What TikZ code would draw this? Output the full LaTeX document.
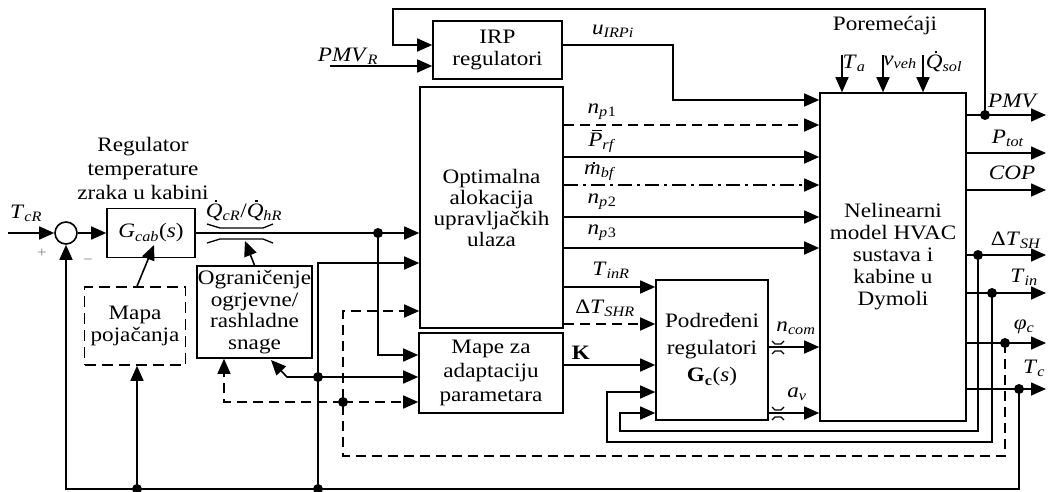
\documentclass[tikz,border=0pt]{standalone}
\usepackage{fontspec}
\setmainfont{Liberation Serif}[FakeStretch=1.13]
\usetikzlibrary{arrows.meta,calc}
\newcommand{\vv}[2]{\textit{#1}\textsubscript{\textit{#2}}}
\newcommand{\dt}[2]{\ooalign{\textit{#1}\cr\hidewidth\hspace{0.15em}\smash{\raisebox{#2}{\rule{2.4pt}{2.4pt}}}\hidewidth\cr}}
\newcommand{\br}[1]{\ooalign{\textit{#1}\cr\hidewidth\hspace{0.12em}\smash{\raisebox{0.78em}{\rule{0.5em}{1.1pt}}}\hidewidth\cr}}
\begin{document}
\begin{tikzpicture}[x=1pt,y=-1pt,
  every node/.style={font=\fontsize{20.5}{22}\selectfont},
  box/.style={draw,line width=1.6pt,align=center,inner sep=0pt},
  ln/.style={line width=1.6pt},
  thin/.style={line width=1.3pt},
  arr/.style={ln,-{Triangle[length=15pt,width=13pt]}},
  dsh/.style={dash pattern=on 10pt off 6pt},
  dd/.style={dash pattern=on 14pt off 5pt on 3pt off 5pt},
  dot/.style={circle,fill,inner sep=0pt,minimum size=10pt},
  lab/.style={inner sep=0pt},
  sm/.style={inner sep=0pt,font=\fontsize{15}{16}\selectfont}]
\useasboundingbox (0,0) rectangle (1049,491);

% blocks
\node[draw,circle,ln,minimum size=22pt,inner sep=0pt] (sum) at (66,233) {};
\node[box,minimum width=88pt,minimum height=49pt] (gcab) at (151,233) {\vv{G}{cab}(\textit{s})};
\node[box,dash pattern=on 11pt off 6pt,minimum width=101pt,minimum height=78pt] (mapa) at (135,326) {Mapa\\pojačanja};
\node[box,minimum width=115pt,minimum height=92pt,font=\fontsize{20.5}{21.5}\selectfont] (ogr) at (254.5,312) {Ograničenje\\ogrjevne/\\rashladne\\snage};
\node[box,minimum width=143pt,minimum height=241pt,font=\fontsize{20.5}{21}\selectfont] (opt) at (491.5,207.5) {Optimalna\\alokacija\\upravljačkih\\ulaza};
\node[box,minimum width=129pt,minimum height=58pt] (irp) at (497.5,50) {IRP\\regulatori};
\node[box,minimum width=144pt,minimum height=80pt,font=\fontsize{20.5}{24}\selectfont] (mape) at (491,373) {Mape za\\adaptaciju\\parametara};
\node[box,minimum width=112pt,minimum height=140pt,font=\fontsize{20.5}{27}\selectfont] (pod) at (712,350) {Podređeni\\regulatori\\\textbf{G}\textsubscript{\textbf{c}}(\textit{s})};
\node[box,minimum width=146pt,minimum height=328pt] (hvac) at (893,257) {Nelinearni\\model HVAC\\sustava i\\kabine u\\Dymoli};

% title
\node[lab,align=center,font=\fontsize{20.5}{24}\selectfont] (title) at (143,168) {Regulator\\temperature\\zraka u kabini};

% helper y-levels
\foreach \n/\yy in {y100/100,y125/125,y157/157,y185/185,y217/217,y248/248,y263/263,y287/287,y311/311,y324/324,y347/347,y355/355,y365/365,y377/377,y392/392,y402/402,y413/413}
  \coordinate (\n) at (0,\yy);

% reference input and sum
\coordinate (tcr) at (8,233);
\draw[arr] (tcr) -- (sum.west);
\draw[arr] (sum.east) -- (gcab.west);
\node[lab] (ltcr) at (26,213) {\vv{T}{cR}};
\node[sm,gray] (plus) at (42,253) {+};
\node[sm,gray] (minus) at (88,262) {\textminus};

% G_cab -> Optimalna
\node[dot] (d1) at (378,233) {};
\draw[arr] (gcab.east) -- (opt.west |- gcab.east);
\draw[thin] (207,224) -- (220,228) -- (263,228) -- (273,224);
\draw[thin] (207,243) -- (220,239) -- (263,239) -- (273,243);
\node[lab] (lq) at (244,212) {\dt{Q}{0.74em}\textsubscript{\textit{cR}}/\dt{Q}{0.74em}\textsubscript{\textit{hR}}};

% map arrows into G_cab / saturation
\coordinate (mtip) at (154,245);
\draw[arr] (mapa.north -| 137,0) -- (mtip);
\coordinate (stip) at (245,241);
\draw[arr] (ogr.north) -- (stip);

% main feedback (T_c)
\node[dot] (dTc) at (1019,389) {};
\coordinate (bR) at (1019,489);
\coordinate (bL) at (66,489);
\draw[arr] (dTc.center) -- (bR) -- (bL) -- (sum.south);
\node[dot] (b1) at (137,489) {};
\draw[arr] (b1.center) -- (b1 |- mapa.south);
\node[dot] (b2) at (318,489) {};
\coordinate (c263) at (318,263);
\draw[arr] (b2.center) -- (c263) -- (opt.west |- c263);
\node[dot] (b3) at (318,377) {};
\draw[arr] (b3.center) -- (mape.west |- b3);
\coordinate (c287) at (287,377);
\coordinate (otip) at (271,360);
\draw[arr] (b3.center) -- (c287) -- (otip);
\coordinate (c355) at (378,355);
\draw[arr] (d1.center) -- (c355) -- (mape.west |- c355);

% dashed feedback (phi_c)
\node[dot] (dphi) at (1005,343) {};
\coordinate (e1) at (1005,456);
\coordinate (e2) at (343,456);
\coordinate (e3) at (343,311);
\draw[arr,dsh] (dphi.center) -- (e1) -- (e2) -- (e3) -- (opt.west |- e3);
\node[dot] (b4) at (343,402) {};
\draw[arr,dsh] (b4.center) -- (mape.west |- b4);
\coordinate (e4) at (224,402);
\draw[arr,dsh] (b4.center) -- (e4) -- (e4 |- ogr.south);

% PMV loop and IRP
\node[dot] (dpmv) at (985,115) {};
\coordinate (f1) at (985,9);
\coordinate (f2) at (393,9);
\coordinate (f3) at (393,45);
\draw[arr] (dpmv.center) -- (f1) -- (f2) -- (f3) -- (irp.west |- f3);
\coordinate (pmvr) at (330,66);
\draw[arr] (pmvr) -- (irp.west |- pmvr);
\node[lab] (lpmvr) at (348,56) {\vv{PMV}{R}};
\coordinate (g1) at (673,45);
\coordinate (g2) at (673,100);
\draw[arr] (irp.east |- g1) -- (g1) -- (g2) -- (hvac.west |- g2);
\node[lab] (lu) at (613,31) {\vv{u}{IRPi}};

% Optimalna outputs
\draw[arr,dsh] (opt.east |- y125) -- (hvac.west |- y125);
\draw[arr] (opt.east |- y157) -- (hvac.west |- y157);
\draw[arr,dd] (opt.east |- y185) -- (hvac.west |- y185);
\draw[arr] (opt.east |- y217) -- (hvac.west |- y217);
\draw[arr] (opt.east |- y248) -- (hvac.west |- y248);
\node[lab] (lnp1) at (602,112) {\vv{n}{p}\textsubscript{1}};
\node[lab] (lprf) at (602,143) {\br{P}\textsubscript{\textit{rf}}};
\node[lab] (lmbf) at (600,173) {\dt{m}{0.52em}\textsubscript{\textit{bf}}};
\node[lab] (lnp2) at (602,202) {\vv{n}{p}\textsubscript{2}};
\node[lab] (lnp3) at (602,233) {\vv{n}{p}\textsubscript{3}};
\draw[arr] (opt.east |- y287) -- (pod.west |- y287);
\draw[arr,dsh] (opt.east |- y324) -- (pod.west |- y324);
\node[lab] (ltinr) at (611,270) {\vv{T}{inR}};
\node[lab] (ldtshr) at (605,308) {Δ\vv{T}{SHR}};

% Mape -> Podredjeni
\draw[arr] (mape.east |- y365) -- (pod.west |- y365);
\node[lab] (lk) at (581,353) {\textbf{K}};

% Podredjeni outputs
\draw[arr] (pod.east |- y347) -- (hvac.west |- y347);
\draw[arr] (pod.east |- y413) -- (hvac.west |- y413);
\draw[thin] (772,341) -- (775,344) -- (781,344) -- (784,341);
\draw[thin] (772,354) -- (775,351) -- (781,351) -- (784,354);
\draw[thin] (772,407) -- (775,410) -- (781,410) -- (784,407);
\draw[thin] (772,420) -- (775,417) -- (781,417) -- (784,420);
\node[lab] (lncom) at (796,328) {\vv{n}{com}};
\node[lab] (lav) at (797,394) {\vv{a}{v}};

% inner feedbacks to Podredjeni
\node[dot] (ddsh) at (978,255) {};
\coordinate (h1) at (978,431);
\coordinate (h2) at (620,431);
\coordinate (h3) at (620,413);
\draw[arr] (ddsh.center) -- (h1) -- (h2) -- (h3) -- (pod.west |- h3);
\node[dot] (dtin) at (992,293) {};
\coordinate (k1) at (992,442);
\coordinate (k2) at (607,442);
\coordinate (k3) at (607,392);
\draw[arr] (dtin.center) -- (k1) -- (k2) -- (k3) -- (pod.west |- k3);

% HVAC outputs
\foreach \n/\yy in {oPMV/115,oPtot/153,oCOP/190,oDT/255,oTin/293,oPhi/343,oTc/389}
  \coordinate (\n) at (1046,\yy);
\draw[arr] (hvac.east |- oPMV) -- (oPMV);
\draw[arr] (hvac.east |- oPtot) -- (oPtot);
\draw[arr] (hvac.east |- oCOP) -- (oCOP);
\draw[arr] (hvac.east |- oDT) -- (oDT);
\draw[arr] (hvac.east |- oTin) -- (oTin);
\draw[arr] (hvac.east |- oPhi) -- (oPhi);
\draw[arr] (hvac.east |- oTc) -- (oTc);
\node[lab] (lpmv) at (1013,101) {\textit{PMV}};
\node[lab] (lptot) at (1008,138) {\vv{P}{tot}};
\node[lab] (lcop) at (1012,173) {\textit{COP}};
\node[lab] (ldt) at (1016,240) {Δ\vv{T}{SH}};
\node[lab] (ltin) at (1024,277) {\vv{T}{in}};
\node[lab] (lphi) at (1024,327) {\vv{φ}{c}};
\node[lab] (ltc) at (1034,368) {\vv{T}{c}};

% disturbances
\coordinate (wa) at (842,55);
\coordinate (wv) at (883,55);
\coordinate (wq) at (923,55);
\draw[arr] (wa) -- (wa |- hvac.north);
\draw[arr] (wv) -- (wv |- hvac.north);
\draw[arr] (wq) -- (wq |- hvac.north);
\node[lab] (lpor) at (885,26) {Poremećaji};
\node[lab] (lta) at (854,63) {\vv{T}{a}};
\node[lab] (lvveh) at (900,62) {\vv{v}{veh}};
\node[lab] (lqsol) at (944,63) {\dt{Q}{0.74em}\textsubscript{\textit{sol}}};
\end{tikzpicture}
\end{document}
